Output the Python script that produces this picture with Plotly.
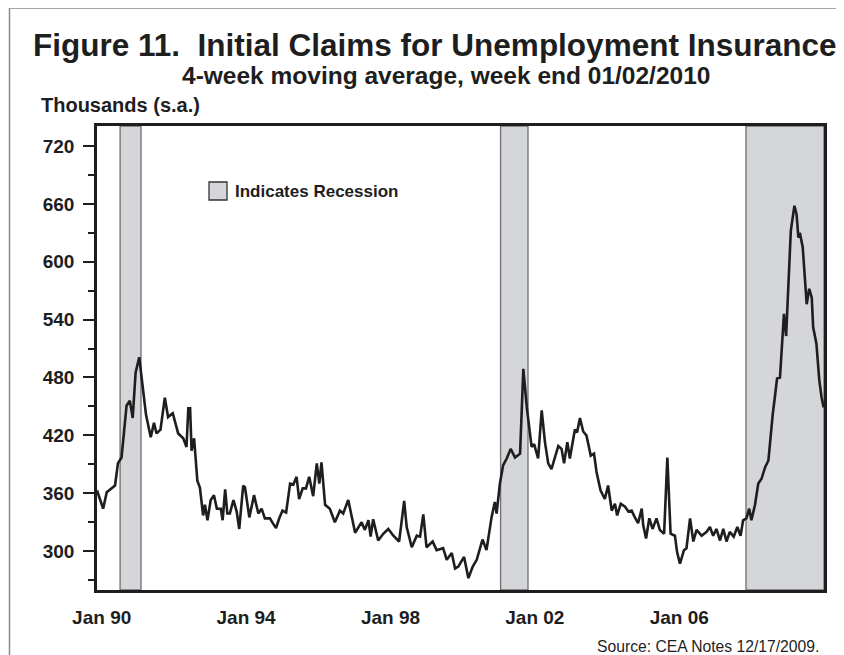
import datetime as _dt
import plotly.graph_objects as go

# ---- data (decimal years, thousands) ----
week_t = [
    1989.87, 1990.04, 1990.14, 1990.37, 1990.45, 1990.55, 1990.69, 1990.78, 1990.86, 1990.94,
    1991.04, 1991.14, 1991.23, 1991.36, 1991.45, 1991.52, 1991.63, 1991.75, 1991.84, 1991.97,
    1992.12, 1992.26, 1992.35, 1992.40, 1992.45, 1992.49, 1992.56, 1992.65, 1992.72, 1992.81,
    1992.86, 1992.93, 1993.02, 1993.11, 1993.19, 1993.30, 1993.35, 1993.42, 1993.48, 1993.55,
    1993.65, 1993.74, 1993.81, 1993.92, 1993.97, 1994.09, 1994.22, 1994.34, 1994.43, 1994.52,
    1994.66, 1994.74, 1994.83, 1994.92, 1995.01, 1995.11, 1995.22, 1995.31, 1995.40, 1995.47,
    1995.57, 1995.66, 1995.75, 1995.86, 1995.96, 1996.03, 1996.09, 1996.19, 1996.32, 1996.46,
    1996.60, 1996.69, 1996.83, 1997.02, 1997.20, 1997.29, 1997.39, 1997.45, 1997.52, 1997.66,
    1997.80, 1997.94, 1998.08, 1998.24, 1998.38, 1998.45, 1998.59, 1998.73, 1998.82, 1998.91,
    1999.00, 1999.17, 1999.28, 1999.46, 1999.56, 1999.70, 1999.79, 1999.88, 2000.04, 2000.16,
    2000.28, 2000.39, 2000.55, 2000.66, 2000.80, 2000.89, 2000.94, 2001.03, 2001.12, 2001.22,
    2001.33, 2001.45, 2001.59, 2001.68, 2001.78, 2001.91, 2001.98, 2002.09, 2002.19, 2002.28,
    2002.37, 2002.46, 2002.65, 2002.74, 2002.81, 2002.90, 2002.97, 2003.11, 2003.17, 2003.25,
    2003.34, 2003.43, 2003.55, 2003.64, 2003.71, 2003.82, 2003.94, 2004.03, 2004.13, 2004.22,
    2004.28, 2004.38, 2004.50, 2004.59, 2004.68, 2004.77, 2004.86, 2004.96, 2005.00, 2005.08,
    2005.17, 2005.26, 2005.37, 2005.46, 2005.58, 2005.67, 2005.76, 2005.88, 2005.94, 2006.02,
    2006.13, 2006.20, 2006.30, 2006.39, 2006.48, 2006.62, 2006.76, 2006.85, 2006.94, 2007.03,
    2007.13, 2007.22, 2007.31, 2007.40, 2007.51, 2007.61, 2007.70, 2007.77, 2007.86, 2007.94,
    2008.00, 2008.10, 2008.19, 2008.28, 2008.38, 2008.47, 2008.53, 2008.59, 2008.65, 2008.71,
    2008.79, 2008.85, 2008.90, 2008.96, 2009.02, 2009.09, 2009.19, 2009.25, 2009.30, 2009.34,
    2009.42, 2009.48, 2009.53, 2009.60, 2009.67, 2009.71, 2009.80, 2009.88, 2009.94, 2010.00,
]
claims = [
    363, 344, 361, 368, 391, 397, 451, 456, 438, 485,
    501, 466, 441, 418, 433, 422, 426, 459, 439, 443,
    422, 417, 408, 448, 448, 404, 417, 373, 366, 337,
    348, 332, 353, 358, 344, 344, 332, 364, 339, 339,
    353, 341, 323, 368, 366, 335, 358, 339, 344, 334,
    334, 329, 324, 334, 342, 340, 370, 369, 377, 354,
    365, 365, 377, 357, 391, 370, 392, 348, 344, 330,
    342, 339, 353, 319, 330, 322, 332, 315, 333, 311,
    318, 323, 316, 310, 352, 325, 304, 316, 315, 338,
    304, 310, 301, 303, 291, 298, 282, 284, 294, 272,
    284, 291, 312, 301, 335, 351, 339, 370, 389, 396,
    406, 397, 401, 489, 448, 408, 411, 396, 446, 413,
    391, 385, 409, 406, 391, 413, 396, 426, 423, 438,
    424, 420, 399, 401, 382, 363, 354, 368, 342, 349,
    337, 349, 346, 341, 342, 335, 329, 344, 327, 313,
    334, 323, 334, 322, 318, 397, 318, 316, 299, 287,
    301, 303, 334, 310, 322, 316, 320, 325, 316, 323,
    311, 323, 310, 320, 315, 325, 316, 332, 334, 344,
    332, 348, 370, 375, 387, 394, 422, 442, 460, 479,
    480, 511, 546, 523, 580, 632, 658, 649, 625, 630,
    615, 577, 556, 572, 563, 532, 515, 477, 460, 449,
]
recession_start = [1990.51, 2001.05, 2007.85]
recession_end = [1991.09, 2001.81, 2010.01]
tick_years = [1990, 1994, 1998, 2002, 2006]
tick_text = ["Jan 90", "Jan 94", "Jan 98", "Jan 02", "Jan 06"]
x_span = [1989.87, 2010.01]
y_span = [259.7, 740.7]


def to_date(t):
    y = int(t)
    start = _dt.datetime(y, 1, 1)
    days = (_dt.datetime(y + 1, 1, 1) - start).days
    return start + _dt.timedelta(days=(t - y) * days)


# the page body adds an 8px offset; work in reference pixels and compensate
OFF = 8
W, H = 844 - OFF, 655 - OFF
L, R, T, B = 97 - OFF, 824 - OFF, 126 - OFF, 590 - OFF


def px(x):
    return (x - OFF - L) / (R - L)


def py(y):
    return (B - (y - OFF)) / (B - T)


FONT = "Liberation Sans, Arial, sans-serif"
INK = "#1e1e1e"

fig = go.Figure()
fig.add_trace(go.Scatter(
    x=[to_date(t) for t in week_t], y=claims, mode="lines",
    line=dict(color=INK, width=2.6), hoverinfo="skip", showlegend=False,
))

shapes = []
for s, e in zip(recession_start, recession_end):
    shapes.append(dict(type="rect", xref="x", yref="y", x0=to_date(s), x1=to_date(e),
                       y0=y_span[0], y1=y_span[1], fillcolor="#d5d6d9",
                       line=dict(color="#6f6f6f", width=1.3), layer="below"))
# legend swatch
shapes.append(dict(type="rect", xref="paper", yref="paper", x0=px(209), x1=px(227),
                   y0=py(200), y1=py(182), fillcolor="#d5d6d9",
                   line=dict(color="#333333", width=1.3)))
# outer frame lines (left and top)
shapes.append(dict(type="line", xref="paper", yref="paper", x0=px(9.5), x1=px(9.5),
                   y0=py(8), y1=py(660), line=dict(color="#8a8a8a", width=1.5)))
shapes.append(dict(type="line", xref="paper", yref="paper", x0=px(9.5), x1=px(850),
                   y0=py(8), y1=py(8), line=dict(color="#8a8a8a", width=1.5)))

annotations = [
    dict(text="<b>Figure 11.  Initial Claims for Unemployment Insurance</b>", xref="paper", yref="paper",
         x=px(434), y=py(45), xanchor="center", yanchor="middle", showarrow=False,
         font=dict(family=FONT, size=31.5, color=INK)),
    dict(text="<b>4-week moving average, week end 01/02/2010</b>", xref="paper", yref="paper",
         x=px(446), y=py(76), xanchor="center", yanchor="middle", showarrow=False,
         font=dict(family=FONT, size=24.5, color=INK)),
    dict(text="<b>Thousands (s.a.)</b>", xref="paper", yref="paper",
         x=px(39), y=py(105), xanchor="left", yanchor="middle", showarrow=False,
         font=dict(family=FONT, size=20, color=INK)),
    dict(text="<b>Indicates Recession</b>", xref="paper", yref="paper",
         x=px(233), y=py(191), xanchor="left", yanchor="middle", showarrow=False,
         font=dict(family=FONT, size=17, color=INK)),
    dict(text="Source: CEA Notes 12/17/2009.", xref="paper", yref="paper",
         x=px(821), y=py(646), xanchor="right", yanchor="middle", showarrow=False,
         font=dict(family=FONT, size=15.7, color=INK)),
]

fig.update_layout(
    width=W, height=H,
    margin=dict(l=L, r=W - R, t=T, b=H - B, pad=0),
    paper_bgcolor="white", plot_bgcolor="white",
    shapes=shapes, annotations=annotations, showlegend=False,
    font=dict(family=FONT, color=INK),
)
fig.update_xaxes(
    type="date", range=[to_date(x_span[0]), to_date(x_span[1])],
    tickmode="array", tickvals=[to_date(y) for y in tick_years],
    ticktext=["<b>%s</b>" % s for s in tick_text],
    tickfont=dict(family=FONT, size=19, color=INK),
    ticks="", showgrid=False, zeroline=False,
    showline=True, linecolor=INK, linewidth=2.6, mirror=True,
    ticklabelstandoff=8,
)
fig.update_yaxes(
    range=y_span, tickmode="linear", tick0=300, dtick=60,
    tickprefix="<b>", ticksuffix="</b>",
    tickfont=dict(family=FONT, size=19, color=INK),
    ticks="outside", ticklen=11, tickwidth=2, tickcolor=INK,
    minor=dict(dtick=30, tick0=270, ticks="outside", ticklen=6, tickwidth=2, tickcolor=INK),
    showgrid=False, zeroline=False,
    showline=True, linecolor=INK, linewidth=2.6, mirror=True,
    ticklabelstandoff=5,
)

fig.write_html("out.html")
